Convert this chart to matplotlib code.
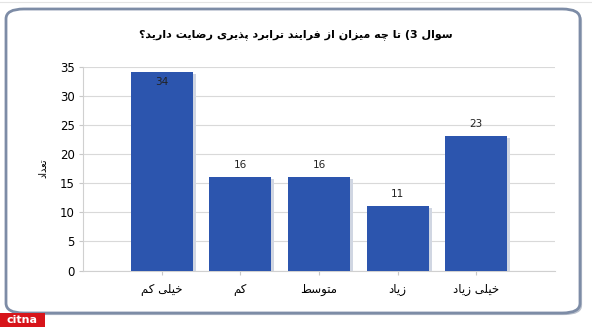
import matplotlib
matplotlib.use("Agg")
import matplotlib.pyplot as plt
from matplotlib.patches import FancyBboxPatch, Rectangle
import matplotlib.patheffects as pe

# ---------------- data ----------------
categories = ["خیلی کم", "کم", "متوسط", "زیاد", "خیلی زیاد"]
values = [34, 16, 16, 11, 23]
yticks = [0, 5, 10, 15, 20, 25, 30, 35]
title = "سوال 3) تا چه میزان از فرایند ترابرد پذیری رضایت دارید؟"
ylabel = "تعداد"

# ---------------- minimal Arabic/Persian shaping ----------------
# letter: (isolated, final, initial, medial); right-joining letters have only 2 forms
FORMS = {
    "ا": ("\uFE8D", "\uFE8E"),
    "ب": ("\uFE8F", "\uFE90", "\uFE91", "\uFE92"),
    "پ": ("\uFB56", "\uFB57", "\uFB58", "\uFB59"),
    "ت": ("\uFE95", "\uFE96", "\uFE97", "\uFE98"),
    "چ": ("\uFB7A", "\uFB7B", "\uFB7C", "\uFB7D"),
    "خ": ("\uFEA5", "\uFEA6", "\uFEA7", "\uFEA8"),
    "د": ("\uFEA9", "\uFEAA"),
    "ذ": ("\uFEAB", "\uFEAC"),
    "ر": ("\uFEAD", "\uFEAE"),
    "ز": ("\uFEAF", "\uFEB0"),
    "س": ("\uFEB1", "\uFEB2", "\uFEB3", "\uFEB4"),
    "ض": ("\uFEBD", "\uFEBE", "\uFEBF", "\uFEC0"),
    "ط": ("\uFEC1", "\uFEC2", "\uFEC3", "\uFEC4"),
    "ع": ("\uFEC9", "\uFECA", "\uFECB", "\uFECC"),
    "ف": ("\uFED1", "\uFED2", "\uFED3", "\uFED4"),
    "ک": ("\uFB8E", "\uFB8F", "\uFB90", "\uFB91"),
    "ل": ("\uFEDD", "\uFEDE", "\uFEDF", "\uFEE0"),
    "م": ("\uFEE1", "\uFEE2", "\uFEE3", "\uFEE4"),
    "ن": ("\uFEE5", "\uFEE6", "\uFEE7", "\uFEE8"),
    "ه": ("\uFEE9", "\uFEEA", "\uFEEB", "\uFEEC"),
    "و": ("\uFEED", "\uFEEE"),
    "ی": ("\uFBFC", "\uFBFD", "\uFBFE", "\uFBFF"),
}
MIRROR = {"(": ")", ")": "("}


def shape(text):
    out = []
    n = len(text)
    for i, ch in enumerate(text):
        if ch not in FORMS:
            out.append(ch)
            continue
        f = FORMS[ch]
        prev = text[i - 1] if i > 0 else ""
        nxt = text[i + 1] if i + 1 < n else ""
        join_prev = prev in FORMS and len(FORMS[prev]) == 4
        join_next = len(f) == 4 and nxt in FORMS
        if join_prev and join_next:
            out.append(f[3])
        elif join_prev:
            out.append(f[1])
        elif join_next:
            out.append(f[2])
        else:
            out.append(f[0])
    # visual order (right-to-left), with mirrored brackets
    return "".join(MIRROR.get(c, c) for c in reversed(out))


# ---------------- figure ----------------
W, H = 592, 327
fig = plt.figure(figsize=(W / 100, H / 100), dpi=100)
fig.patch.set_facecolor("white")

# outer rounded frame
frame = FancyBboxPatch((6 / W, 14 / H), 574 / W, 304 / H,
                       boxstyle="round,pad=0,rounding_size=0.03",
                       transform=fig.transFigure, facecolor="white",
                       edgecolor="#7d8ca6", linewidth=2.0, zorder=-5,
                       path_effects=[pe.SimplePatchShadow(offset=(1.5, -1.5),
                                                          shadow_rgbFace="#b9c0cc", alpha=1),
                                     pe.Normal()])
fig.patches.append(frame)
# faint line at very top of the page
fig.add_artist(plt.Line2D([0, 1], [1 - 2 / H, 1 - 2 / H], color="#e4e4e4", lw=0.8,
                          transform=fig.transFigure, zorder=-5))

ax = fig.add_axes([83 / W, (H - 270.5) / H, 472 / W, 204 / H])
ax.set_zorder(5)
ax.set_facecolor("none")

x = list(range(len(categories)))
bars = ax.bar(x, values, width=0.79, color="#2c55ae", zorder=3)
for b in bars:
    b.set_path_effects([pe.SimplePatchShadow(offset=(2, -1), shadow_rgbFace="#d0d6e2", alpha=1),
                        pe.Normal()])

ax.set_xlim(-1, 5)
ax.set_ylim(0, 35)
ax.set_yticks(yticks)
ax.set_xticks(x)
ax.set_xticklabels([shape(c) for c in categories], fontsize=8.5, family="DejaVu Sans")
ax.tick_params(axis="y", labelsize=8.5, length=3, color="#c8c8c8", pad=3)
ax.tick_params(axis="x", length=3, color="#c8c8c8", pad=6)
ax.grid(axis="y", color="#d9d9d9", lw=0.8, zorder=0)
for s in ["top", "right"]:
    ax.spines[s].set_visible(False)
ax.spines["left"].set_color("#d0d0d0")
ax.spines["bottom"].set_color("#d0d0d0")

for xi, v in zip(x, values):
    if v >= 30:
        ax.annotate(str(v), (xi, v), xytext=(0, -3.5), textcoords="offset points",
                    ha="center", va="top", fontsize=7.5, color="#222222", zorder=4)
    else:
        ax.annotate(str(v), (xi, v), xytext=(0, 5), textcoords="offset points",
                    ha="center", va="bottom", fontsize=7.5, color="#222222", zorder=4)

ax.set_ylabel(shape(ylabel), fontsize=7, labelpad=8)

fig.text(296 / W, 1 - 35 / H, shape(title), ha="center", va="center",
         fontsize=8, fontweight="bold", family="DejaVu Sans")

# logo badge bottom-left
fig.patches.append(Rectangle((0, 0), 45 / W, 14 / H, transform=fig.transFigure,
                             facecolor="#d7141a", edgecolor="none"))
fig.text(22 / W, 7 / H, "citna", ha="center", va="center", color="white",
         fontsize=8, fontweight="bold")

fig.savefig("out.png", dpi=100)
